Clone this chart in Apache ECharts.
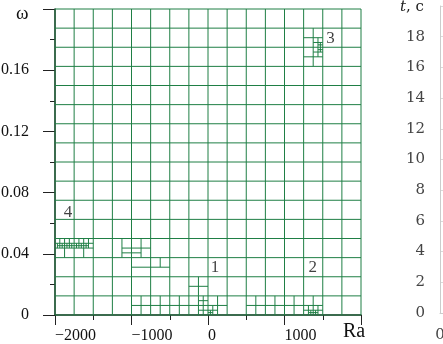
<!DOCTYPE html>
<html><head><meta charset="utf-8">
<script src="https://cdn.jsdelivr.net/npm/echarts@6/dist/echarts.min.js"></script>
<style>html,body{margin:0;padding:0;background:#fff}#c{width:443px;height:344px}</style>
</head><body><div id="c"></div>
<script>
// ---- axes ----
const raRange = [-2000, 2000];
const omegaRange = [0, 0.2];
const tRange = [0, 20];
// ---- base mesh lines ----
const baseRa = [-2000,-1750,-1500,-1250,-1000,-750,-500,-250,0,250,500,750,1000,1250,1500,1750,2000];
const baseOmega = [0,0.0125,0.025,0.0375,0.05,0.0625,0.075,0.0875,0.1,0.1125,0.125,0.1375,0.15,0.1625,0.175,0.1875,0.2];
// ---- refinement: horizontal segments [omega, raFrom, raTo] ----
const refineH = [
  // near regime 3
  [0.16875,1250,1500],[0.18125,1250,1500],[0.171875,1375,1500],[0.178125,1375,1500],
  [0.1734375,1437.5,1500],[0.1765625,1437.5,1500],
  // bottom row
  [0.00625,-1000,250],[0.00625,500,1500],
  // near regime 2
  [0.003125,1250,1500],[0.0015625,1312.5,1437.5],
  // near regime 1
  [0.003125,-125,125],[0.0015625,0,62.5],[0.01875,-250,0],[0.009375,-125,0],
  // near regime 4
  [0.04375,-2000,-1500],[0.046875,-2000,-1500],[0.0453125,-1968.75,-1562.5],
  [0.04375,-1125,-750],[0.040625,-1125,-875],[0.03125,-1000,-500]
];
// ---- refinement: vertical segments [ra, omegaFrom, omegaTo] ----
const refineV = [
  // near regime 3
  [1375,0.1625,0.1875],[1437.5,0.16875,0.18125],[1468.75,0.171875,0.178125],
  // bottom row
  [-875,0,0.0125],[-625,0,0.0125],[-375,0,0.0125],[-125,0,0.0125],[125,0,0.0125],
  [625,0,0.0125],[875,0,0.0125],[1125,0,0.0125],[1375,0,0.0125],
  // near regime 2
  [1312.5,0,0.00625],[1437.5,0,0.00625],[1343.75,0,0.003125],[1406.25,0,0.003125],
  // near regime 1
  [-62.5,0,0.0125],[62.5,0,0.00625],[31.25,0,0.003125],[-125,0.0125,0.025],
  // near regime 4
  [-1875,0.0375,0.05],[-1625,0.0375,0.05],
  [-1937.5,0.04375,0.05],[-1812.5,0.04375,0.05],[-1687.5,0.04375,0.05],[-1562.5,0.04375,0.05],
  [-1968.75,0.04375,0.046875],[-1906.25,0.04375,0.046875],[-1843.75,0.04375,0.046875],
  [-1781.25,0.04375,0.046875],[-1718.75,0.04375,0.046875],[-1656.25,0.04375,0.046875],[-1593.75,0.04375,0.046875],
  [-1125,0.0375,0.05],[-875,0.0375,0.05],[-625,0.03125,0.0375]
];
// ---- regime labels ----
const regimeNames = ['1','2','3','4'];
const regimeRa = [90, 1370, 1600, -1830];
const regimeOmega = [0.031, 0.031, 0.181, 0.067];

const MESH = '#1f7f45';
const FONT = 'Liberation Serif';
const FONT2 = 'DejaVu Serif';

const segs = [];
baseRa.forEach(r => segs.push([r, omegaRange[0], r, omegaRange[1]]));
baseOmega.forEach(w => segs.push([raRange[0], w, raRange[1], w]));
refineH.forEach(s => segs.push([s[1], s[0], s[2], s[0]]));
refineV.forEach(s => segs.push([s[0], s[1], s[0], s[2]]));

const chart = echarts.init(document.getElementById('c'));
chart.setOption({
  animation: false,
  backgroundColor: '#fff',
  grid: [
    {left: 55, top: 9, width: 306, height: 306, containLabel: false, outerBoundsMode: 'none'},
    {left: 440, top: 6, width: 200, height: 307, containLabel: false, outerBoundsMode: 'none'}
  ],
  xAxis: [
    {gridIndex: 0, type: 'value', min: raRange[0], max: raRange[1], interval: 1000,
     axisLine: {show: true, onZero: false, lineStyle: {color: '#222', width: 1.5}},
     axisTick: {show: true, length: 10, lineStyle: {color: '#222'}},
     minorTick: {show: true, splitNumber: 2, length: 5, lineStyle: {color: '#222'}},
     splitLine: {show: false},
     axisLabel: {align: 'left', margin: 13, fontFamily: FONT, fontSize: 16, color: '#111',
       formatter: v => v === 2000 ? '' : String(v).replace('-', '\u2212')}},
    {gridIndex: 1, type: 'value', min: 0, max: 10, interval: 10,
     axisLine: {show: true, onZero: false, lineStyle: {color: '#ccc'}}, axisTick: {show: false},
     splitLine: {show: false},
     axisLabel: {margin: 15, fontFamily: FONT2, fontSize: 15, color: '#444', formatter: v => v === 0 ? '0' : ''}}
  ],
  yAxis: [
    {gridIndex: 0, type: 'value', min: omegaRange[0], max: omegaRange[1], interval: 0.04,
     axisLine: {show: true, onZero: false, lineStyle: {color: '#222', width: 1.5}},
     axisTick: {show: true, length: 12, lineStyle: {color: '#222'}},
     minorTick: {show: true, splitNumber: 2, length: 5, lineStyle: {color: '#222'}},
     splitLine: {show: false},
     axisLabel: {margin: 26, fontFamily: FONT, fontSize: 16, color: '#111',
       formatter: v => v === 0 ? '0' : (v > 0.19 ? '' : v.toFixed(2))}},
    {gridIndex: 1, type: 'value', min: tRange[0], max: tRange[1], interval: 2,
     axisLine: {show: true, onZero: false, lineStyle: {color: '#ccc'}}, axisTick: {show: false},
     splitLine: {show: true, lineStyle: {color: '#dadada'}},
     axisLabel: {margin: 15, fontFamily: FONT2, fontSize: 15, color: '#444',
       formatter: v => v >= 20 ? '' : String(v)}}
  ],
  series: [
    {type: 'custom', xAxisIndex: 0, yAxisIndex: 0, clip: false, silent: true,
     encode: {x: [0, 2], y: [1, 3]},
     data: segs,
     renderItem: (params, api) => {
       const p0 = api.coord([api.value(0), api.value(1)]);
       const p1 = api.coord([api.value(2), api.value(3)]);
       return {type: 'line', shape: {x1: p0[0], y1: p0[1], x2: p1[0], y2: p1[1]},
               style: {stroke: MESH, lineWidth: 1}};
     }},
    {type: 'scatter', xAxisIndex: 0, yAxisIndex: 0, symbolSize: 1, silent: true,
     itemStyle: {color: 'transparent'},
     data: regimeNames.map((n, i) => ({name: n, value: [regimeRa[i], regimeOmega[i]]})),
     label: {show: true, position: 'inside', formatter: '{b}', fontFamily: FONT, fontSize: 17, color: '#111'}}
  ],
  graphic: [
    {type: 'text', left: 16, top: 5, style: {text: '\u03c9', fontFamily: FONT, fontSize: 19, fill: '#111'}},
    {type: 'text', left: 343, top: 322, style: {text: 'Ra', fontFamily: FONT, fontSize: 20, fill: '#111'}},
    {type: 'text', left: 400, top: 0, style: {text: '{i|t}, c', fontFamily: FONT2, fontSize: 15, fill: '#222',
      rich: {i: {fontStyle: 'italic', fontFamily: FONT2, fontSize: 15, fill: '#222'}}}}
  ]
});
</script></body></html>
